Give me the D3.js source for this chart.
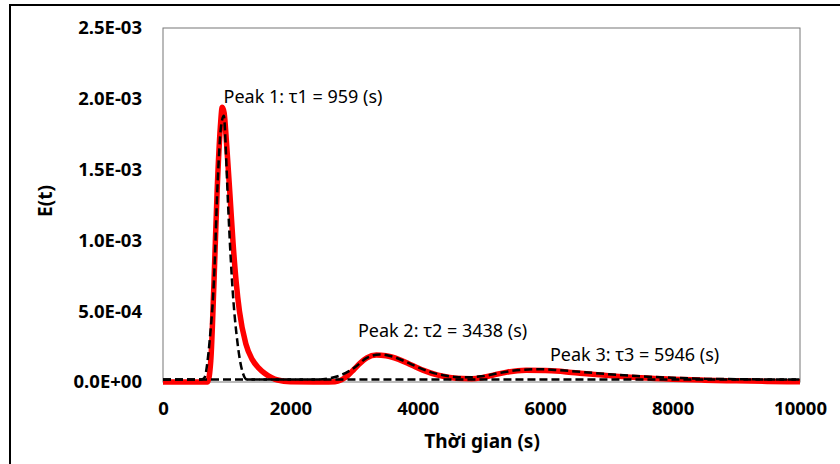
<html>
<head>
  <script src="https://d3js.org/d3.v7.min.js"></script>
  <style>
    body { margin: 0; background: #fff; }
    text { font-family: "Noto Sans", "DejaVu Sans", sans-serif; }
  </style>
</head>
<body>
  <div id="chart"></div>
  <script>
    // measured E(t) (red)
    const measT = [0, 600, 700, 750, 800, 850, 900, 930, 960, 1000, 1050, 1100, 1150, 1200, 1300, 1400, 1500, 1600, 1700, 1800, 2000, 2500, 2700, 2800, 2900, 3000, 3100, 3200, 3350, 3500, 3700, 3900, 4100, 4300, 4500, 4700, 4850, 5000, 5200, 5400, 5700, 6000, 6300, 6600, 7000, 7500, 8000, 8500, 9000, 9500, 10000];
    const measE = [0, 0, 0, 1.5e-4, 7.0e-4, 1.35e-3, 1.8e-3, 1.94e-3, 1.9e-3, 1.67e-3, 1.33e-3, 9.8e-4, 7.0e-4, 5.0e-4, 2.7e-4, 1.6e-4, 1.0e-4, 6e-5, 3.2e-5, 1.4e-5, 2e-6, 0, 2e-6, 1.5e-5, 4.5e-5, 9e-5, 1.35e-4, 1.7e-4, 1.9e-4, 1.85e-4, 1.6e-4, 1.2e-4, 8e-5, 5e-5, 3.2e-5, 2.4e-5, 2.3e-5, 3e-5, 5e-5, 7e-5, 8.3e-5, 8.2e-5, 7.3e-5, 6e-5, 4.5e-5, 3e-5, 2e-5, 1.3e-5, 8e-6, 4e-6, 2e-6];

    // fitted peak 1 (dashed)
    const fit1T = [0, 600, 650, 700, 730, 800, 860, 910, 955, 990, 1005, 1083, 1177, 1256, 1320, 10000];
    const fit1E = [1.7e-5, 1.7e-5, 3e-5, 1.5e-4, 2.8e-4, 7.2e-4, 1.43e-3, 1.8e-3, 1.88e-3, 1.6e-3, 1.43e-3, 7.2e-4, 2.5e-4, 6e-5, 1.7e-5, 1.7e-5];

    // fitted peaks 2 + 3 (dashed)
    const fit2T = [0, 2400, 2600, 2800, 3000, 3200, 3400, 3600, 3800, 4000, 4200, 4400, 4600, 4800, 5000, 5300, 5600, 5900, 6200, 6600, 7000, 7500, 8000, 8500, 9000, 10000];
    const fit2E = [1.7e-5, 1.7e-5, 2.5e-5, 5e-5, 1.0e-4, 1.7e-4, 1.95e-4, 1.8e-4, 1.45e-4, 1.05e-4, 7e-5, 4.8e-5, 3.6e-5, 3.3e-5, 4e-5, 6.5e-5, 8.5e-5, 9e-5, 8.4e-5, 7e-5, 5.5e-5, 4e-5, 3e-5, 2.3e-5, 2e-5, 1.7e-5];

    const xTicks = [0, 2000, 4000, 6000, 8000, 10000];
    const yTicks = [0, 5e-4, 1e-3, 1.5e-3, 2e-3, 2.5e-3];
    const yTickLabels = ["0.0E+00", "5.0E-04", "1.0E-03", "1.5E-03", "2.0E-03", "2.5E-03"];

    const peakLabels = ["Peak 1: τ1 = 959 (s)", "Peak 2: τ2 = 3438 (s)", "Peak 3: τ3 = 5946 (s)"];
    const peakLabelT = [950, 3060, 6075];
    const peakLabelE = [1.97e-3, 3.18e-4, 1.48e-4];

    const w = 840, h = 464;
    const mLeft = 163, mRight = 800, mTop = 28, mBottom = 382;

    const svg = d3.select("#chart").append("svg")
      .attr("width", w).attr("height", h);

    // outer frame
    svg.append("rect")
      .attr("x", 10).attr("y", 5)
      .attr("width", 900).attr("height", 500)
      .attr("fill", "none").attr("stroke", "#000").attr("stroke-width", 2);

    const x = d3.scaleLinear().domain([0, 10000]).range([mLeft, mRight]);
    const y = d3.scaleLinear().domain([0, 2.5e-3]).range([mBottom, mTop]);

    // plot area border
    svg.append("rect")
      .attr("x", mLeft).attr("y", mTop)
      .attr("width", mRight - mLeft).attr("height", mBottom - mTop)
      .attr("fill", "none").attr("stroke", "#777").attr("stroke-width", 1);

    const xAxis = d3.axisBottom(x).tickValues(xTicks).tickSize(0).tickPadding(20)
      .tickFormat(d3.format("d"));
    const yAxis = d3.axisLeft(y).tickValues(yTicks).tickSize(0).tickPadding(21)
      .tickFormat((d, i) => yTickLabels[i]);

    const gx = svg.append("g").attr("transform", "translate(0," + mBottom + ")").call(xAxis);
    const gy = svg.append("g").attr("transform", "translate(" + mLeft + ",0)").call(yAxis);
    [gx, gy].forEach(g => {
      g.select(".domain").remove();
      g.selectAll("text")
        .style("font-family", '"Noto Sans", sans-serif')
        .style("font-size", "18.5px")
        .style("font-weight", "bold")
        .attr("fill", "#000");
    });

    const line = d3.line()
      .x(d => x(d[0]))
      .y(d => y(d[1]))
      .curve(d3.curveMonotoneX);

    svg.append("path")
      .datum(d3.zip(measT, measE))
      .attr("d", line)
      .attr("fill", "none")
      .attr("stroke", "#ff0000")
      .attr("stroke-width", 5.5);

    [d3.zip(fit1T, fit1E), d3.zip(fit2T, fit2E)].forEach(data => {
      svg.append("path")
        .datum(data)
        .attr("d", line)
        .attr("fill", "none")
        .attr("stroke", "#000")
        .attr("stroke-width", 2.5)
        .attr("stroke-dasharray", "8,4");
    });

    // peak labels
    svg.selectAll(".peak")
      .data(peakLabels)
      .enter()
      .append("text")
      .attr("class", "peak")
      .attr("x", (d, i) => x(peakLabelT[i]))
      .attr("y", (d, i) => y(peakLabelE[i]))
      .style("font-size", "18px")
      .attr("fill", "#000")
      .text(d => d);

    // axis titles
    svg.append("text")
      .attr("x", 482)
      .attr("y", 448)
      .attr("text-anchor", "middle")
      .style("font-size", "19px")
      .style("font-weight", "bold")
      .text("Thời gian (s)");

    svg.append("text")
      .attr("transform", "translate(52,201) rotate(-90)")
      .attr("text-anchor", "middle")
      .style("font-size", "19px")
      .style("font-weight", "bold")
      .text("E(t)");
  </script>
</body>
</html>
